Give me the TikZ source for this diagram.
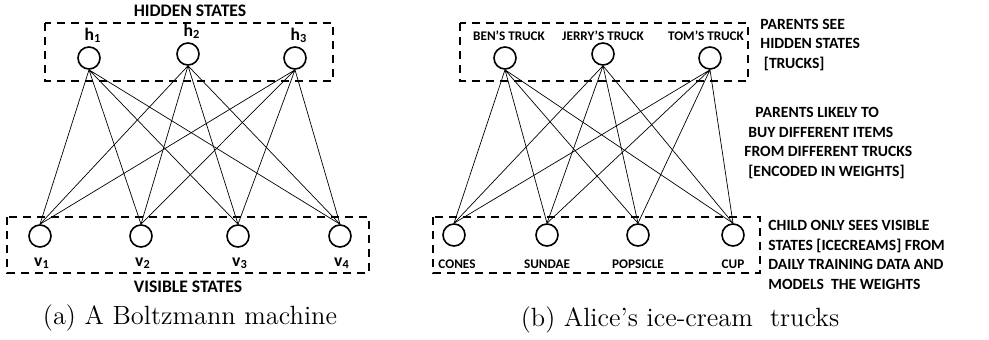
\documentclass[tikz,border=0pt]{standalone}
\usepackage{fontspec}
\usepackage{tikz}
\usetikzlibrary{positioning}
\newfontfamily\labelfont{Carlito}

\begin{document}
\begin{tikzpicture}[
  x=0.5pt, y=-0.5pt,
  neuron/.style={
    circle, draw=black, line width=0.8pt, fill=white,
    minimum size=11pt, inner sep=0pt
  },
  groupbox/.style={
    draw=black, line width=1pt, dash pattern=on 4pt off 3pt
  },
  link/.style={line width=0.35pt},
  heading/.style={font=\labelfont\bfseries\fontsize{8.8}{10}\selectfont},
  unitname/.style={font=\labelfont\bfseries\fontsize{8.8}{10}\selectfont, inner sep=1pt},
  tag/.style={font=\labelfont\bfseries\fontsize{6.6}{8}\selectfont, inner sep=1pt},
  note/.style={font=\labelfont\bfseries\fontsize{7.8}{9.8}\selectfont,
    align=left, inner sep=0pt},
  caption/.style={font=\fontsize{13.2}{16}\selectfont},
]
\useasboundingbox (0,0) rectangle (989,339);

% (a) Boltzmann machine
\draw[groupbox] (45,23) rectangle (333,81);
\draw[groupbox] (7,217) rectangle (369,273);
\node[heading] (hiddenhead) at (190,11) {HIDDEN STATES};
\node[heading] (visiblehead) at (188,287) {VISIBLE STATES};

\node[neuron] (h1) at (89,58) {};
\node[neuron] (h2) at (188,54) {};
\node[neuron] (h3) at (295,58) {};
\node[neuron] (v1) at (40,236) {};
\node[neuron] (v2) at (141,236) {};
\node[neuron] (v3) at (238,236) {};
\node[neuron] (v4) at (340,236) {};

\node[unitname, above=0.5pt of h1, xshift=2pt] (h1name) {h\textsubscript{1}};
\node[unitname, above=0.5pt of h2, xshift=2pt] (h2name) {h\textsubscript{2}};
\node[unitname, above=0.5pt of h3, xshift=2pt] (h3name) {h\textsubscript{3}};
\node[unitname, below=4pt of v1, xshift=1pt] (v1name) {v\textsubscript{1}};
\node[unitname, below=4pt of v2, xshift=1pt] (v2name) {v\textsubscript{2}};
\node[unitname, below=4pt of v3, xshift=1pt] (v3name) {v\textsubscript{3}};
\node[unitname, below=4pt of v4, xshift=1pt] (v4name) {v\textsubscript{4}};

\draw[link] (h1.south) -- (v1.north) (h1.south) -- (v2.north)
            (h1.south) -- (v3.north) (h1.south) -- (v4.north);
\draw[link] (h2.south) -- (v1.north) (h2.south) -- (v2.north)
            (h2.south) -- (v3.north) (h2.south) -- (v4.north);
\draw[link] (h3.south) -- (v1.north) (h3.south) -- (v2.north)
            (h3.south) -- (v3.north) (h3.south) -- (v4.north);

\node[caption] (capa) at (190,318) {(a) A Boltzmann machine};

% (b) Ice-cream trucks
\draw[groupbox] (460,23) rectangle (748,81);
\draw[groupbox] (433,217) rectangle (760,273);

\node[neuron] (ben) at (505,58) {};
\node[neuron] (jerry) at (603,54) {};
\node[neuron] (tom) at (710,58) {};
\node[neuron] (cones) at (454,235) {};
\node[neuron] (sundae) at (547,235) {};
\node[neuron] (popsicle) at (638,235) {};
\node[neuron] (cup) at (733,235) {};

\node[tag, above=1.5pt of ben, xshift=2pt] (benname) {BEN’S TRUCK};
\node[tag, above=-0.5pt of jerry] (jerryname) {JERRY’S TRUCK};
\node[tag, above=1.5pt of tom, xshift=-2pt] (tomname) {TOM’S TRUCK};
\node[tag, below=5.5pt of cones, xshift=1.5pt] (conesname) {CONES};
\node[tag, below=5.5pt of sundae] (sundaename) {SUNDAE};
\node[tag, below=5.5pt of popsicle] (popsiclename) {POPSICLE};
\node[tag, below=5.5pt of cup] (cupname) {CUP};

\draw[link] (ben.south) -- (cones.north) (ben.south) -- (sundae.north)
            (ben.south) -- (popsicle.north) (ben.south) -- (cup.north);
\draw[link] (jerry.south) -- (cones.north) (jerry.south) -- (sundae.north)
            (jerry.south) -- (popsicle.north) (jerry.south) -- (cup.north);
\draw[link] (tom.south) -- (cones.north) (tom.south) -- (sundae.north)
            (tom.south) -- (popsicle.north) (tom.south) -- (cup.north);

% Side notes
\node[note, anchor=west] (seenote) at (760,45)
  {PARENTS SEE\\HIDDEN STATES\\~[TRUCKS]};
\node[note, anchor=west] (buynote) at (744,143)
  {\hspace*{5.5pt}PARENTS LIKELY TO\\\hspace*{2pt}BUY DIFFERENT ITEMS\\
   FROM DIFFERENT TRUCKS\\\hspace*{2pt}[ENCODED IN WEIGHTS]};
\node[note, anchor=west] (childnote) at (768,255)
  {CHILD ONLY SEES VISIBLE\\STATES [ICECREAMS] FROM\\
   DAILY TRAINING DATA AND\\MODELS~ THE WEIGHTS};

\node[caption] (capb) at (680,320) {(b) Alice’s ice-cream\ \ trucks};
\end{tikzpicture}
\end{document}
